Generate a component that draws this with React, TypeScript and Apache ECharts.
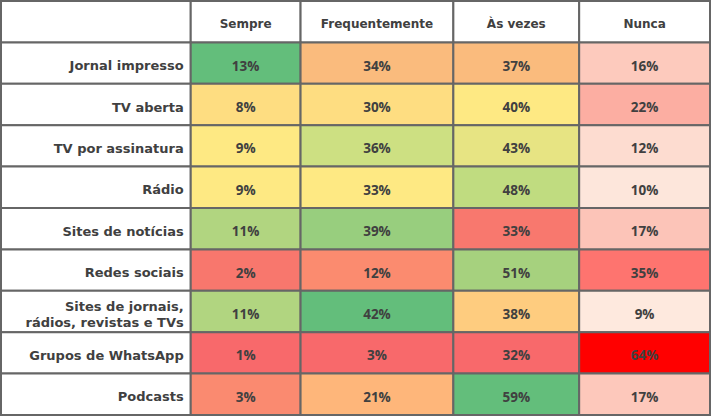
import React, { useEffect, useRef } from "react";
import * as echarts from "echarts";

const columns = ["Sempre", "Frequentemente", "Às vezes", "Nunca"];
const rows = [
  "Jornal impresso",
  "TV aberta",
  "TV por assinatura",
  "Rádio",
  "Sites de notícias",
  "Redes sociais",
  "Sites de jornais,\nrádios, revistas e TVs",
  "Grupos de WhatsApp",
  "Podcasts",
];
const sempre = [13, 8, 9, 9, 11, 2, 11, 1, 3];
const frequentemente = [34, 30, 36, 33, 39, 12, 42, 3, 21];
const asVezes = [37, 40, 43, 48, 33, 51, 38, 32, 59];
const nunca = [16, 22, 12, 10, 17, 35, 9, 64, 17];

// fill colours per column (conditional-format colours)
const sempreColors = ["#63be7b", "#fedd81", "#fee983", "#fee983", "#b1d580", "#f8776d", "#b1d580", "#f8696b", "#fa8a70"];
const frequentementeColors = ["#fabb7d", "#fedd81", "#cde082", "#fee983", "#98ce7e", "#fb8b6f", "#63be7b", "#f8696b", "#feb67a"];
const asVezesColors = ["#fabb7d", "#fee983", "#e7e483", "#c0dc80", "#f8786e", "#a6d17e", "#fecc7f", "#f8696b", "#63be7b"];
const nuncaColors = ["#fdcabd", "#fcaea2", "#fddcd0", "#fde6db", "#fcc4b8", "#fe746f", "#fee9de", "#ff0000", "#fdc8bb"];

const colWidths = [190, 110, 153, 126, 131];

type Cell = {
  col: number;
  row: number;
  text: string;
  color: string;
  align: "left" | "center" | "right";
  size: number;
  family: string;
};

const labelFont = "'DejaVu Sans', sans-serif";
const numberFont = "'Open Sans', sans-serif";

function buildCells(): Cell[] {
  const cells: Cell[] = [];
  const values = [sempre, frequentemente, asVezes, nunca];
  const colors = [sempreColors, frequentementeColors, asVezesColors, nuncaColors];
  cells.push({ col: 0, row: 0, text: "", color: "#ffffff", align: "center", size: 12, family: labelFont });
  columns.forEach((c, i) =>
    cells.push({ col: i + 1, row: 0, text: c, color: "#ffffff", align: "center", size: 12, family: labelFont })
  );
  rows.forEach((r, ri) => {
    cells.push({ col: 0, row: ri + 1, text: r, color: "#ffffff", align: "right", size: 13, family: labelFont });
    values.forEach((vals, ci) => {
      cells.push({
        col: ci + 1,
        row: ri + 1,
        text: vals[ri] + "%",
        color: colors[ci][ri],
        align: "center",
        size: 13.5,
        family: numberFont,
      });
    });
  });
  return cells;
}

export default function App() {
  const ref = useRef<HTMLDivElement>(null);
  useEffect(() => {
    document.body.style.margin = "0";
    const chart = echarts.init(ref.current!, undefined, { renderer: "svg" });
    const cells = buildCells();
    const edges: number[] = [0];
    colWidths.forEach((w) => edges.push(edges[edges.length - 1] + w));
    const total = edges[edges.length - 1];
    const yCats = ["header", ...rows];
    chart.setOption({
      animation: false,
      backgroundColor: "#ffffff",
      grid: { left: 1, right: 1, top: 1, bottom: 1 },
      xAxis: { type: "value", min: 0, max: total, show: false },
      yAxis: { type: "category", data: yCats, inverse: true, show: false },
      series: [
        {
          type: "custom",
          encode: { x: 0, y: 1 },
          data: cells.map((c) => [edges[c.col], c.row]),
          renderItem: (params: any, api: any) => {
            const cell = cells[params.dataIndex];
            const p0 = api.coord([edges[cell.col], cell.row]);
            const p1 = api.coord([edges[cell.col + 1], cell.row]);
            const h = api.size([0, 1])[1];
            const x = p0[0];
            const y = p0[1] - h / 2;
            const w = p1[0] - p0[0];
            const tx = cell.align === "right" ? x + w - 7 : x + w / 2;
            const lines = cell.text.split("\n");
            const lh = 16;
            const cy = y + h / 2 + 2.5;
            const texts = lines.map((line, i) => ({
              type: "text",
              style: {
                text: line,
                x: tx,
                y: cy + (i - (lines.length - 1) / 2) * lh,
                align: cell.align,
                verticalAlign: "middle",
                fontFamily: cell.family,
                fontWeight: "bold",
                fontSize: cell.size,
                fill: "#404040",
              },
            }));
            return {
              type: "group",
              children: [
                {
                  type: "rect",
                  shape: { x, y, width: w, height: h },
                  style: { fill: cell.color, stroke: "#666666", lineWidth: 2 },
                },
                ...texts,
              ],
            };
          },
        },
      ],
    });
    return () => chart.dispose();
  }, []);
  return <div ref={ref} style={{ width: 711, height: 416 }} />;
}
